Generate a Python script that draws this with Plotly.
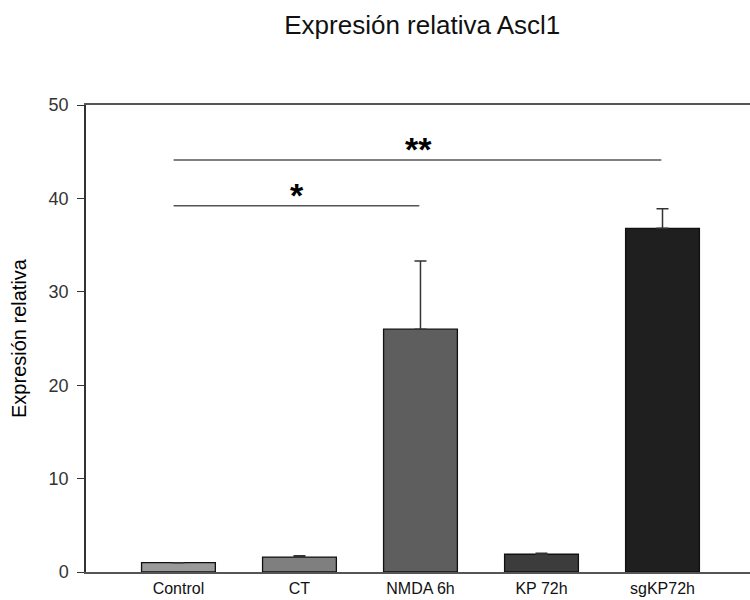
import plotly.graph_objects as go

categories = ["Control", "CT", "NMDA 6h", "KP 72h", "sgKP72h"]
values = [1.0, 1.6, 26.0, 1.9, 36.8]
errors = [0.0, 0.15, 7.3, 0.1, 2.1]
bar_colors = ["#9a9a9a", "#7f7f7f", "#5e5e5e", "#3c3c3c", "#1f1f1f"]

sig_pairs = [(0, 2), (0, 4)]
sig_heights = [39.2, 44.1]
sig_labels = ["*", "**"]

y_ticks = [0, 10, 20, 30, 40, 50]

FONT = "Liberation Sans, Arial, sans-serif"

x_idx = list(range(len(categories)))

fig = go.Figure()
fig.add_trace(go.Bar(
    x=x_idx, y=values,
    width=0.61,
    marker=dict(color=bar_colors, line=dict(color="#111111", width=1.3)),
    error_y=dict(type="data", array=errors, symmetric=False, arrayminus=[0]*len(errors),
                 color="#333333", thickness=1.5, width=6),
    showlegend=False,
))

shapes = []
annotations = []
for (a, b), h, lab in zip(sig_pairs, sig_heights, sig_labels):
    shapes.append(dict(type="line", xref="x", yref="y", x0=a - 0.04, x1=b - 0.01, y0=h, y1=h,
                       line=dict(color="#555555", width=1.5)))
    annotations.append(dict(x=(a + b) / 2 - 0.02, y=h, xref="x", yref="y", text=lab, showarrow=False,
                            yanchor="bottom", yshift=-10,
                            font=dict(family=FONT, size=34, color="#000000", weight="bold")))

fig.update_layout(
    width=750, height=600,
    margin=dict(l=86, r=0, t=105, b=28),
    paper_bgcolor="white", plot_bgcolor="white",
    title=dict(text="Expresión relativa Ascl1", x=0.563, xanchor="center", y=0.958, yanchor="middle",
               font=dict(family=FONT, size=26, color="#111111")),
    xaxis=dict(range=[-0.764, 4.723], tickvals=x_idx, ticktext=categories,
               showline=True, linecolor="#555555", linewidth=1.5, mirror=True,
               ticks="", showgrid=False, zeroline=False, ticklabelstandoff=1,
               automargin=False,
               tickfont=dict(family=FONT, size=16, color="#111111")),
    yaxis=dict(range=[0, 50], tickvals=y_ticks,
               showline=True, linecolor="#333333", linewidth=1.5, mirror=False,
               ticks="outside", ticklen=7, tickcolor="#333333", tickwidth=1.2,
               showgrid=False, zeroline=False, ticklabelstandoff=5,
               automargin=False,
               tickfont=dict(family=FONT, size=18, color="#333333"),
               title=dict(text="Expresión relativa", standoff=17,
                          font=dict(family=FONT, size=20, color="#000000"))),
    shapes=shapes, annotations=annotations,
    bargap=0.39,
)

fig.write_html("out.html")
